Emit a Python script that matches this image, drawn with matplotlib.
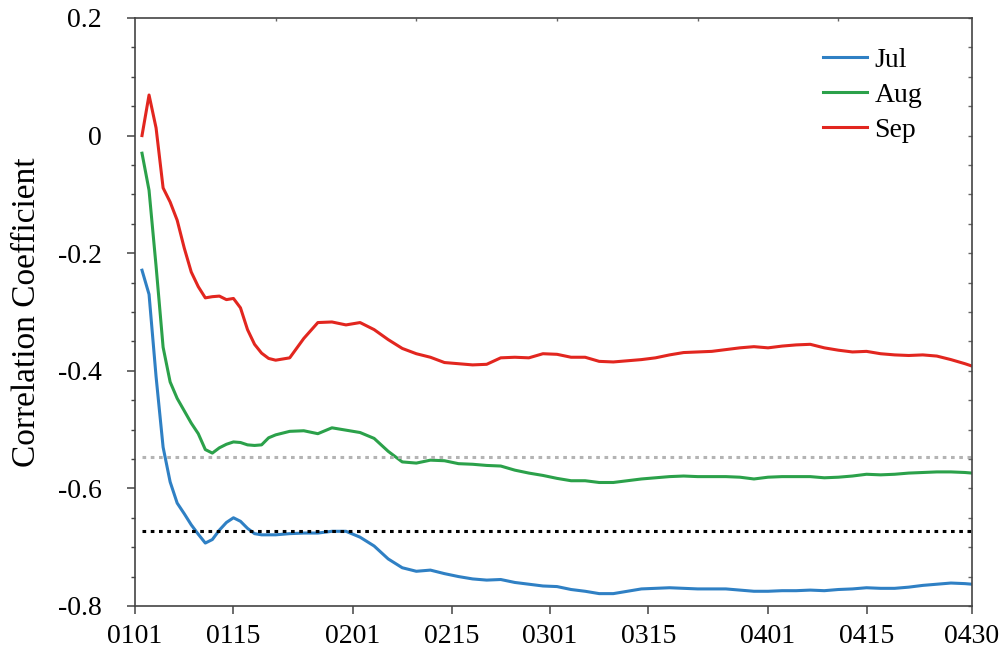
import numpy as np
from matplotlib import pyplot as plt
from matplotlib.ticker import MultipleLocator, FixedLocator

plt.rcParams['font.family'] = ['Liberation Serif', 'DejaVu Serif']

# day index from 0101 (0) to 0430 (119)
days = [1, 2, 3, 4, 5, 6, 7, 8, 9, 10, 11, 12, 13, 14, 15, 16, 17, 18, 19, 20,
        22, 24, 26, 28, 30, 32, 34, 36, 38, 40, 42, 44, 46, 48, 50, 52, 54, 56, 58, 60,
        62, 64, 66, 68, 70, 72, 74, 76, 78, 80, 82, 84, 86, 88, 90, 92, 94, 96, 98, 100,
        102, 104, 106, 108, 110, 112, 114, 116, 118, 119]

jul = [-0.229, -0.270, -0.410, -0.530, -0.589, -0.625, -0.643, -0.662, -0.678, -0.693,
       -0.687, -0.671, -0.658, -0.650, -0.656, -0.668, -0.677, -0.679, -0.679, -0.679,
       -0.677, -0.676, -0.676, -0.673, -0.673, -0.683, -0.698, -0.720, -0.735, -0.741,
       -0.739, -0.745, -0.750, -0.754, -0.756, -0.755, -0.760, -0.763, -0.766, -0.767,
       -0.772, -0.775, -0.779, -0.779, -0.775, -0.771, -0.770, -0.769, -0.770, -0.771,
       -0.771, -0.771, -0.773, -0.775, -0.775, -0.774, -0.774, -0.773, -0.774, -0.772,
       -0.771, -0.769, -0.770, -0.770, -0.768, -0.765, -0.763, -0.761, -0.762, -0.763]

aug = [-0.030, -0.093, -0.222, -0.360, -0.419, -0.447, -0.468, -0.489, -0.507, -0.534,
       -0.540, -0.531, -0.525, -0.521, -0.522, -0.526, -0.527, -0.526, -0.514, -0.509,
       -0.503, -0.502, -0.507, -0.497, -0.501, -0.505, -0.515, -0.537, -0.555, -0.557,
       -0.552, -0.553, -0.558, -0.559, -0.561, -0.562, -0.569, -0.574, -0.578, -0.583,
       -0.587, -0.587, -0.590, -0.590, -0.587, -0.584, -0.582, -0.580, -0.579, -0.580,
       -0.580, -0.580, -0.581, -0.584, -0.581, -0.580, -0.580, -0.580, -0.582, -0.581,
       -0.579, -0.576, -0.577, -0.576, -0.574, -0.573, -0.572, -0.572, -0.573, -0.574]

sep = [0.000, 0.069, 0.013, -0.089, -0.113, -0.144, -0.191, -0.232, -0.257, -0.276,
       -0.274, -0.273, -0.279, -0.277, -0.293, -0.330, -0.355, -0.370, -0.379, -0.382,
       -0.378, -0.345, -0.318, -0.317, -0.322, -0.318, -0.330, -0.347, -0.362, -0.371,
       -0.377, -0.386, -0.388, -0.390, -0.389, -0.378, -0.377, -0.378, -0.371, -0.372,
       -0.377, -0.377, -0.384, -0.385, -0.383, -0.381, -0.378, -0.373, -0.369, -0.368,
       -0.367, -0.364, -0.361, -0.359, -0.361, -0.358, -0.356, -0.355, -0.361, -0.365,
       -0.368, -0.367, -0.371, -0.373, -0.374, -0.373, -0.375, -0.381, -0.388, -0.392]

thresh_gray = -0.546
thresh_black = -0.672

tick_days = [0, 14, 31, 45, 59, 73, 90, 104, 119]
tick_labels = ['0101', '0115', '0201', '0215', '0301', '0315', '0401', '0415', '0430']

fig = plt.figure(figsize=(10.08, 6.49), dpi=100)
ax = fig.add_axes([0.1339, 0.0663, 0.8304, 0.906])

ax.plot(days, jul, color='#2f80c4', lw=2.2, label='Jul')
ax.plot(days, aug, color='#2ba14a', lw=2.2, label='Aug')
ax.plot(days, sep, color='#e2261f', lw=2.2, label='Sep')
ax.plot([days[0], days[-1]], [thresh_gray] * 2, color='#b4b4b4', lw=2.2, ls=(0, (1.2, 1.5)))
ax.plot([days[0], days[-1]], [thresh_black] * 2, color='black', lw=2.2, ls=(0, (1.2, 1.5)))

ax.set_xlim(0, 119)
ax.set_ylim(-0.8, 0.2)
ax.set_xticks(tick_days)
ax.set_xticklabels(tick_labels)
ax.set_yticks([-0.8, -0.6, -0.4, -0.2, 0, 0.2])
ax.set_yticklabels(['-0.8', '-0.6', '-0.4', '-0.2', '0', '0.2'])
ax.yaxis.set_minor_locator(MultipleLocator(0.05))

for s in ax.spines.values():
    s.set_color('#444444')
    s.set_linewidth(1.2)

ax.tick_params(axis='both', which='major', direction='out', length=6, width=1.1,
               color='#444444', labelsize=20)
ax.tick_params(axis='y', which='major', pad=18)
ax.tick_params(axis='x', which='major', pad=7)
ax.tick_params(axis='y', which='minor', direction='out', length=3, width=1, color='#444444')

# small inner ticks on the right and top frame
ax2 = ax.secondary_yaxis('right')
ax2.yaxis.set_major_locator(MultipleLocator(0.05))
ax2.tick_params(direction='in', length=3, width=1, color='#666666', labelright=False)
ax2.spines['right'].set_visible(False)
ax3 = ax.secondary_xaxis('top')
ax3.xaxis.set_major_locator(FixedLocator([20, 40, 60, 80, 100]))
ax3.tick_params(direction='in', length=2, width=1, color='#666666', labeltop=False)
ax3.spines['top'].set_visible(False)

ax.set_ylabel('Correlation Coefficient', fontsize=24, labelpad=11)

ax.legend(loc='upper left', bbox_to_anchor=(0.822, 0.950), frameon=False, fontsize=20,
          handlelength=1.6, handletextpad=0.25, labelspacing=0.35, borderpad=0,
          borderaxespad=0)

fig.savefig('out.png', dpi=100)
